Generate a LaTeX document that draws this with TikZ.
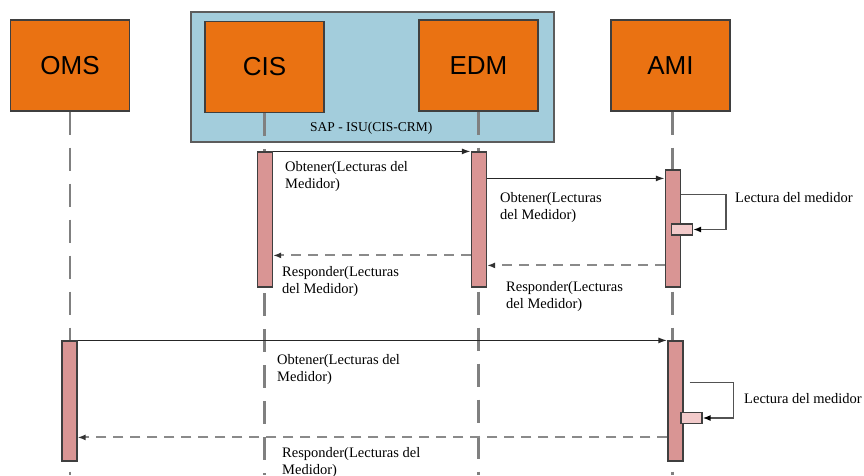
\documentclass[tikz,border=0pt]{standalone}
\usepackage{fontspec}
\setmainfont{Liberation Serif}
\newfontfamily\boxfont{Liberation Sans}
\usetikzlibrary{arrows.meta,calc}
\definecolor{boxorange}{HTML}{EA7212}
\definecolor{sapblue}{HTML}{A3CDDC}
\definecolor{actpink}{HTML}{D99594}
\definecolor{subpink}{HTML}{F2CACA}
\definecolor{edgegray}{HTML}{3F3F3F}
\definecolor{lifegray}{HTML}{808080}
\definecolor{retgray}{HTML}{8A8A8A}
\begin{document}
\begin{tikzpicture}[x=1pt,y=-1pt,
  actor/.style={draw=edgegray, line width=1.4pt, fill=boxorange, minimum width=119pt,
    minimum height=91pt, inner sep=0pt, font=\boxfont\fontsize{26}{30}\selectfont},
  group/.style={draw=edgegray!85, line width=1.4pt, fill=sapblue, minimum width=363pt,
    minimum height=130pt, inner sep=0pt},
  life/.style={draw=lifegray, line width=2.2pt, dash pattern=on 23pt off 13pt},
  act/.style={draw=edgegray, line width=1.2pt, fill=actpink, minimum width=15pt, inner sep=0pt},
  subact/.style={draw=edgegray, line width=1.2pt, fill=subpink, minimum width=21pt,
    minimum height=11pt, inner sep=0pt},
  call/.style={draw=black!85, line width=1.7pt, -{Latex[length=9pt,width=6pt]}},
  reply/.style={draw=retgray, line width=2pt, dash pattern=on 10pt off 7pt,
    -{Latex[length=8pt,width=6pt,color=black!80]}},
  selfcall/.style={draw=edgegray!90, line width=1.5pt, -{Latex[length=8pt,width=6pt,color=black]}},
  msg/.style={font=\fontsize{14.5}{17}\selectfont, align=left, inner sep=0pt, anchor=north west}
]
\useasboundingbox (0,0) rectangle (864,475);
\coordinate (bottom) at (0,475);

% SAP-ISU group with its two systems
\node[group] (sap) at (372.5,77) {};
\node[actor] (oms) at (70,65.5) {OMS};
\node[actor] (cis) at (264.5,67) {CIS};
\node[actor] (edm) at (478.5,65.5) {EDM};
\node[actor] (ami) at (670.5,65.5) {AMI};
\node[anchor=base west, inner sep=0pt, font=\fontsize{13.5}{15}\selectfont] (saplabel) at (310,131) {SAP - ISU(CIS-CRM)};

% lifelines
\draw[life] (oms.south) -- (oms.south |- bottom);
\draw[life] (cis.south) -- (cis.south |- bottom);
\draw[life] (edm.south) -- (edm.south |- bottom);
\draw[life] ([xshift=2pt]ami.south) -- ([xshift=2pt]ami.south |- bottom);

% activations
\node[act, minimum height=135pt] (cisAct) at (265,219.5) {};
\node[act, minimum height=135pt] (edmAct) at (479,219.5) {};
\node[act, minimum height=117pt] (amiAct) at (673,228.5) {};
\node[act, minimum height=120pt] (omsAct) at (69.5,401) {};
\node[act, minimum height=120pt] (amiAct2) at (675.5,401) {};
\node[subact] (subA) at (682,229.5) {};
\node[subact] (subB) at (691.5,418) {};

% first exchange: CIS -> EDM -> AMI
\draw[call] (cisAct.north east) -- (edmAct.north west);
\node[msg] (m1) at (285,161) {Obtener(Lecturas del\\Medidor)};
\draw[call] ($(edmAct.north east)+(0,27)$) -- ($(amiAct.north west)+(0,9)$);
\node[msg] (m3) at (500,192) {Obtener(Lecturas\\del Medidor)};
\draw[selfcall] ($(amiAct.north east)+(0,25)$) -- ++(45,0) |- (subA.east);
\node[msg] (s1) at (735,192) {Lectura del medidor};
\draw[reply] ($(amiAct.north west)+(0,96)$) -- ($(edmAct.north east)+(0,114)$);
\node[msg] (m5) at (506,281) {Responder(Lecturas\\del Medidor)};
\draw[reply] ($(edmAct.north west)+(0,104)$) -- ($(cisAct.north east)+(0,104)$);
\node[msg] (m2) at (282,266) {Responder(Lecturas\\del Medidor)};

% second exchange: OMS -> AMI
\draw[call] (omsAct.north east) -- (amiAct2.north west);
\node[msg] (m6) at (277,354) {Obtener(Lecturas del\\Medidor)};
\draw[selfcall] ($(amiAct2.north east)+(6,42)$) -- ++(44,0) |- (subB.east);
\node[msg] (s2) at (744,393) {Lectura del medidor};
\draw[reply] ($(amiAct2.north west)+(0,97)$) -- ($(omsAct.north east)+(0,97)$);
\node[msg] (m8) at (282,447) {Responder(Lecturas del\\Medidor)};
\end{tikzpicture}
\end{document}
